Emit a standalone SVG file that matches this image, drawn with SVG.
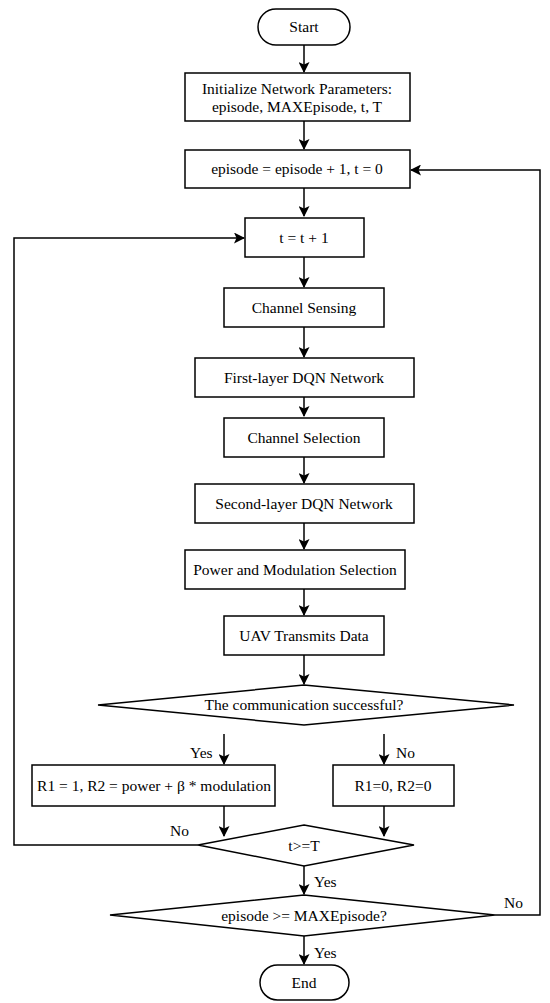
<svg xmlns="http://www.w3.org/2000/svg" width="550" height="1003" viewBox="0 0 550 1003">
<defs>
<marker id="ah" markerWidth="11" markerHeight="11" refX="10" refY="5.5" orient="auto" markerUnits="userSpaceOnUse">
<path d="M0,0 L11,5.5 L0,11 L2.5,5.5 Z" fill="#000"/>
</marker>
</defs>
<style>
.n{fill:#fff;stroke:#000;stroke-width:1.5}
.c{fill:none;stroke:#000;stroke-width:1.5;marker-end:url(#ah)}
</style>
<rect width="550" height="1003" fill="#fff"/>
<g id="connectors">
<line class="c" x1="304" y1="45" x2="304" y2="72"/>
<line class="c" x1="304" y1="121" x2="304" y2="149"/>
<line class="c" x1="304" y1="188" x2="304" y2="216"/>
<line class="c" x1="304" y1="257" x2="304" y2="287"/>
<line class="c" x1="304" y1="327" x2="304" y2="357"/>
<line class="c" x1="304" y1="397" x2="304" y2="416"/>
<line class="c" x1="304" y1="457" x2="304" y2="483"/>
<line class="c" x1="304" y1="523" x2="304" y2="549"/>
<line class="c" x1="304" y1="589" x2="304" y2="615"/>
<line class="c" x1="304" y1="655" x2="304" y2="684"/>
<line class="c" x1="224" y1="734" x2="224" y2="764"/>
<line class="c" x1="384" y1="734" x2="384" y2="764"/>
<line class="c" x1="224" y1="806" x2="224" y2="836"/>
<line class="c" x1="384" y1="806" x2="384" y2="836"/>
<line class="c" x1="304" y1="866" x2="304" y2="894"/>
<line class="c" x1="304" y1="936" x2="304" y2="964"/>
<polyline class="c" points="198,845 14,845 14,238 244,238"/>
<polyline class="c" points="495,915 540,915 540,170 411,170"/>
<g font-family="Liberation Serif, serif" font-size="15.5" fill="#000">
<text x="190" y="758">Yes</text>
<text x="396" y="758">No</text>
<text x="170" y="836">No</text>
<text x="314" y="887">Yes</text>
<text x="504" y="908">No</text>
<text x="314" y="958">Yes</text>
</g>
</g>
<g font-family="Liberation Serif, serif" font-size="15.5" fill="#000" text-anchor="middle">
<g id="start"><rect class="n" x="258" y="9" width="92" height="36" rx="18"/><text x="304" y="32">Start</text></g>
<g id="init"><rect class="n" x="185" y="73" width="225" height="48"/><text x="297" y="94">Initialize Network Parameters:</text><text x="297" y="112">episode, MAXEpisode, t, T</text></g>
<g id="episode"><rect class="n" x="185" y="150" width="225" height="38"/><text x="297" y="174">episode = episode + 1, t = 0</text></g>
<g id="tinc"><rect class="n" x="245" y="218" width="119" height="39"/><text x="304" y="243">t = t + 1</text></g>
<g id="sensing"><rect class="n" x="224" y="288" width="160" height="39"/><text x="304" y="313">Channel Sensing</text></g>
<g id="dqn1"><rect class="n" x="195" y="358" width="219" height="39"/><text x="304" y="383">First-layer DQN Network</text></g>
<g id="chsel"><rect class="n" x="224" y="418" width="160" height="39"/><text x="304" y="443">Channel Selection</text></g>
<g id="dqn2"><rect class="n" x="195" y="484" width="219" height="39"/><text x="304" y="509">Second-layer DQN Network</text></g>
<g id="pmsel"><rect class="n" x="185" y="550" width="220" height="39"/><text x="295" y="575">Power and Modulation Selection</text></g>
<g id="uav"><rect class="n" x="224" y="616" width="160" height="39"/><text x="304" y="641">UAV Transmits Data</text></g>
<g id="success"><polygon class="n" points="304,685 514,705 304,725 98,705"/><text x="304" y="710">The communication successful?</text></g>
<g id="r1"><rect class="n" x="32" y="765" width="243" height="41"/><text x="154" y="791">R1 = 1, R2 = power + β * modulation</text></g>
<g id="r0"><rect class="n" x="333" y="765" width="121" height="41"/><text x="393" y="791">R1=0, R2=0</text></g>
<g id="tT"><polygon class="n" points="304,825 414,845 304,866 198,845"/><text x="304" y="851">t&gt;=T</text></g>
<g id="maxep"><polygon class="n" points="304,895 495,915 304,936 110,915"/><text x="304" y="921">episode &gt;= MAXEpisode?</text></g>
<g id="end"><rect class="n" x="260" y="965" width="89" height="35" rx="17.5"/><text x="304" y="988">End</text></g>
</g>
</svg>
